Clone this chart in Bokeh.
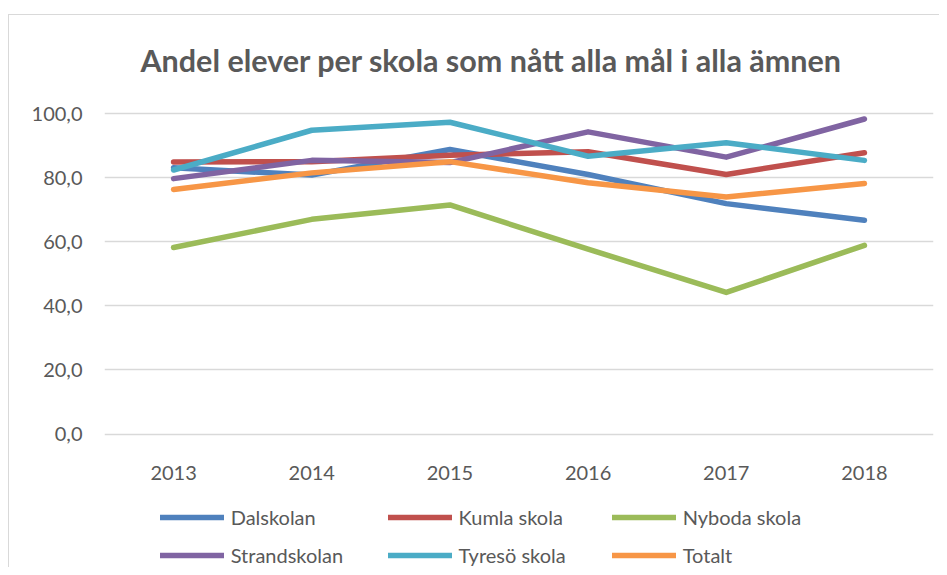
from bokeh.plotting import figure
from bokeh.layouts import column
from bokeh.models import FactorRange, Range1d, FixedTicker, Legend, LegendItem, Label
from bokeh.embed import file_html
from bokeh.resources import INLINE

title = "Andel elever per skola som nått alla mål i alla ämnen"
years = ["2013", "2014", "2015", "2016", "2017", "2018"]
series_names = ["Dalskolan", "Kumla skola", "Nyboda skola", "Strandskolan", "Tyresö skola", "Totalt"]
dalskolan = [83.1, 80.8, 88.8, 81.0, 71.9, 66.7]
kumla = [84.9, 85.0, 87.0, 88.1, 81.0, 87.8]
nyboda = [58.2, 67.0, 71.5, 57.7, 44.2, 58.9]
strand = [79.7, 85.4, 84.7, 94.3, 86.4, 98.3]
tyreso = [82.4, 94.8, 97.3, 86.7, 90.9, 85.4]
totalt = [76.3, 81.5, 85.0, 78.4, 74.0, 78.2]
colors = ["#4F81BD", "#C0504D", "#9BBB59", "#8064A2", "#4BACC6", "#F79646"]
y_ticks = [0, 20, 40, 60, 80, 100]
y_tick_labels = ["0,0", "20,0", "40,0", "60,0", "80,0", "100,0"]

FONT = "Lato"
TXT = "#595959"
LW = 5.5

# ---- main chart (frame extends up to hold the title) ----
p = figure(width=930, height=480, x_range=FactorRange(*years, range_padding=0),
           y_range=Range1d(-2, 130.6), output_backend="svg", toolbar_location=None,
           title=None,
           min_border_left=95, min_border_right=6, min_border_top=0, min_border_bottom=55)
p.x_range.factor_padding = 0
p.outline_line_color = None
p.background_fill_color = "white"
p.border_fill_color = "white"

all_series = [dalskolan, kumla, nyboda, strand, tyreso, totalt]
for vals, c in zip(all_series, colors):
    p.line(years, vals, line_color=c, line_width=LW, line_cap="round", line_join="round")

p.yaxis.ticker = FixedTicker(ticks=y_ticks)
p.yaxis.major_label_overrides = {t: l for t, l in zip(y_ticks, y_tick_labels)}
for ax in (p.xaxis[0], p.yaxis[0]):
    ax.axis_line_color = None
    ax.major_tick_line_color = None
    ax.minor_tick_line_color = None
    ax.major_label_text_font = FONT
    ax.major_label_text_font_size = "20px"
    ax.major_label_text_color = TXT
p.yaxis.major_label_standoff = 16
p.xaxis.major_label_standoff = 19
p.xaxis.group_text_font_size = "0px"

p.xgrid.grid_line_color = None
p.ygrid.grid_line_color = "#d9d9d9"
p.ygrid.grid_line_width = 1.5
p.ygrid.ticker = FixedTicker(ticks=y_ticks)

p.add_layout(Label(x=2.8, y=116.6, text=title, text_font=FONT, text_font_style="bold",
                   text_font_size="30.5px", text_color=TXT, text_align="center",
                   text_baseline="alphabetic"))

# ---- legend strip ----
lg = figure(width=930, height=72, x_range=Range1d(0, 1), y_range=Range1d(0, 1),
            x_axis_type=None, y_axis_type=None, output_backend="svg", toolbar_location=None,
            title=None, min_border_left=95, min_border_right=6, min_border_top=0,
            min_border_bottom=0)
lg.outline_line_color = None
lg.grid.grid_line_color = None
lg.background_fill_color = "white"
lg.border_fill_color = "white"

nan = float("nan")
leg_renderers = []
for name, c in zip(series_names, colors):
    r = lg.line([nan], [nan], line_color=c, line_width=LW, line_cap="round", line_join="round")
    leg_renderers.append((name, r))

col_x = [55.7, 283.5, 507.7]
for ci, x0 in enumerate(col_x):
    items = [LegendItem(label=leg_renderers[ci][0], renderers=[leg_renderers[ci][1]]),
             LegendItem(label=leg_renderers[ci + 3][0], renderers=[leg_renderers[ci + 3][1]])]
    leg = Legend(items=items, location=(x0, 0), orientation="vertical",
                 glyph_width=64, glyph_height=24, label_height=24, label_standoff=7,
                 spacing=14, padding=0, margin=0, border_line_color=None,
                 background_fill_alpha=0, label_text_font=FONT,
                 label_text_font_size="20px", label_text_color=TXT)
    lg.add_layout(leg, "center")

layout = column(p, lg, spacing=0,
                styles={"margin-top": "14px", "margin-left": "8px",
                        "border-top": "1px solid #d9d9d9", "border-left": "1px solid #d9d9d9"})

open("out.html", "w").write(file_html(layout, INLINE))
